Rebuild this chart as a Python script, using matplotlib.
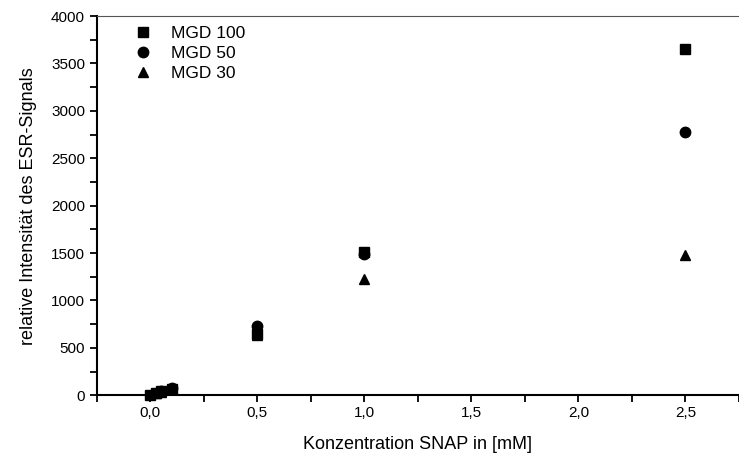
import numpy as np
import matplotlib.pyplot as plt

plt.rcParams['font.family'] = ['Liberation Sans', 'DejaVu Sans']

# MGD 100 (squares)
x100 = [0.0, 0.025, 0.05, 0.1, 0.5, 1.0, 2.5]
y100 = [5, 20, 40, 70, 650, 1510, 3650]
# MGD 50 (circles)
x50 = [0.05, 0.1, 0.5, 1.0, 2.5]
y50 = [45, 75, 725, 1490, 2780]
# MGD 30 (triangles)
x30 = [0.025, 0.05, 0.5, 1.0, 2.5]
y30 = [20, 35, 635, 1225, 1480]

fig = plt.figure(figsize=(7.39, 4.59), dpi=100)
ax = fig.add_axes([0.131, 0.139, 0.869, 0.826])

ax.plot(x100, y100, 's', color='black', ms=7, label='MGD 100', clip_on=False)
ax.plot(x50, y50, 'o', color='black', ms=7.5, label='MGD 50', clip_on=False)
ax.plot(x30, y30, '^', color='black', ms=7.5, label='MGD 30', clip_on=False)

ax.set_xlim(-0.245, 2.71)
ax.set_ylim(0, 4000)
ax.set_xticks(np.arange(0, 2.51, 0.5))
ax.set_xticklabels(['0,0', '0,5', '1,0', '1,5', '2,0', '2,5'])
ax.set_xticks(np.arange(-0.25, 2.76, 0.25), minor=True)
ax.set_yticks(np.arange(0, 4001, 500))
ax.set_yticks(np.arange(0, 4001, 250), minor=True)
ax.tick_params(which='both', direction='out', length=5, width=1.3, labelsize=11)
ax.tick_params(axis='x', pad=3)

ax.spines['right'].set_visible(False)
ax.spines['top'].set_linewidth(0.8)
ax.spines['top'].set_color('#555555')
ax.spines['left'].set_linewidth(1.5)
ax.spines['bottom'].set_linewidth(1.5)

ax.set_xlabel('Konzentration SNAP in [mM]', fontsize=13, labelpad=11)
ax.set_ylabel('relative Intensität des ESR-Signals', fontsize=13, labelpad=10)

ax.legend(loc='upper left', frameon=False, fontsize=12.5, handletextpad=0.6,
          borderaxespad=0.15, labelspacing=0.28, bbox_to_anchor=(0.03, 1.0))

fig.savefig('out.png', dpi=100)
